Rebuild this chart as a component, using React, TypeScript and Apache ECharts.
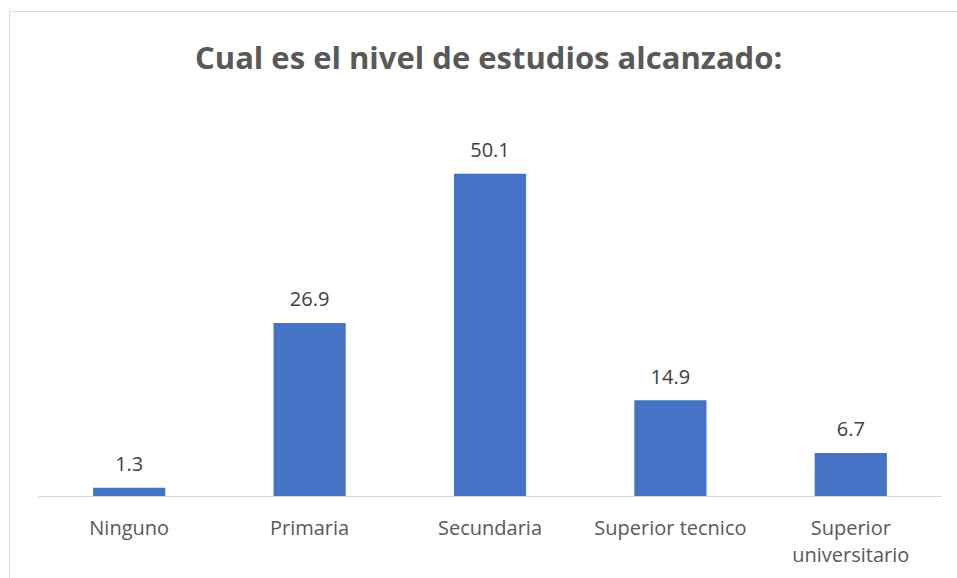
import React, { useEffect, useRef } from "react";
import * as echarts from "echarts";

const categories = ["Ninguno", "Primaria", "Secundaria", "Superior tecnico", "Superior\nuniversitario"];
const values = [1.3, 26.9, 50.1, 14.9, 6.7];
const titleText = "Cual es el nivel de estudios alcanzado:";

export default function App() {
  const ref = useRef<HTMLDivElement>(null);
  useEffect(() => {
    if (!ref.current) return;
    const chart = echarts.init(ref.current, undefined, { renderer: "svg" });
    chart.setOption({
      animation: false,
      backgroundColor: "#ffffff",
      title: {
        text: titleText,
        left: 195,
        top: 41,
        padding: 0,
        textStyle: { fontFamily: "Open Sans", fontSize: 31, fontWeight: "bold", color: "#595959" },
      },
      graphic: [
        {
          type: "rect",
          shape: { x: 9.5, y: 11.5, width: 1000, height: 1000 },
          style: { fill: "none", stroke: "#d9d9d9", lineWidth: 1 },
          silent: true,
        },
      ],
      grid: { left: 39, right: 16, top: 110, bottom: 82, containLabel: false },
      xAxis: {
        type: "category",
        data: categories,
        axisLine: { lineStyle: { color: "#d9d9d9", width: 1 } },
        axisTick: { show: false },
        axisLabel: {
          fontFamily: "Open Sans",
          fontSize: 20,
          color: "#595959",
          margin: 18,
          lineHeight: 27,
          interval: 0,
        },
      },
      yAxis: {
        type: "value",
        min: 0,
        max: 60,
        show: false,
        splitLine: { show: false },
      },
      series: [
        {
          type: "bar",
          data: values,
          barWidth: "40%",
          itemStyle: { color: "#4472c4" },
          label: {
            show: true,
            position: "top",
            distance: 14,
            fontFamily: "Open Sans",
            fontSize: 20,
            color: "#404040",
            formatter: (p: any) => p.value.toFixed(1),
          },
        },
      ],
    });
    return () => chart.dispose();
  }, []);
  return (
    <div
      ref={ref}
      style={{ position: "fixed", left: 0, top: 0, width: 957, height: 578 }}
    />
  );
}
